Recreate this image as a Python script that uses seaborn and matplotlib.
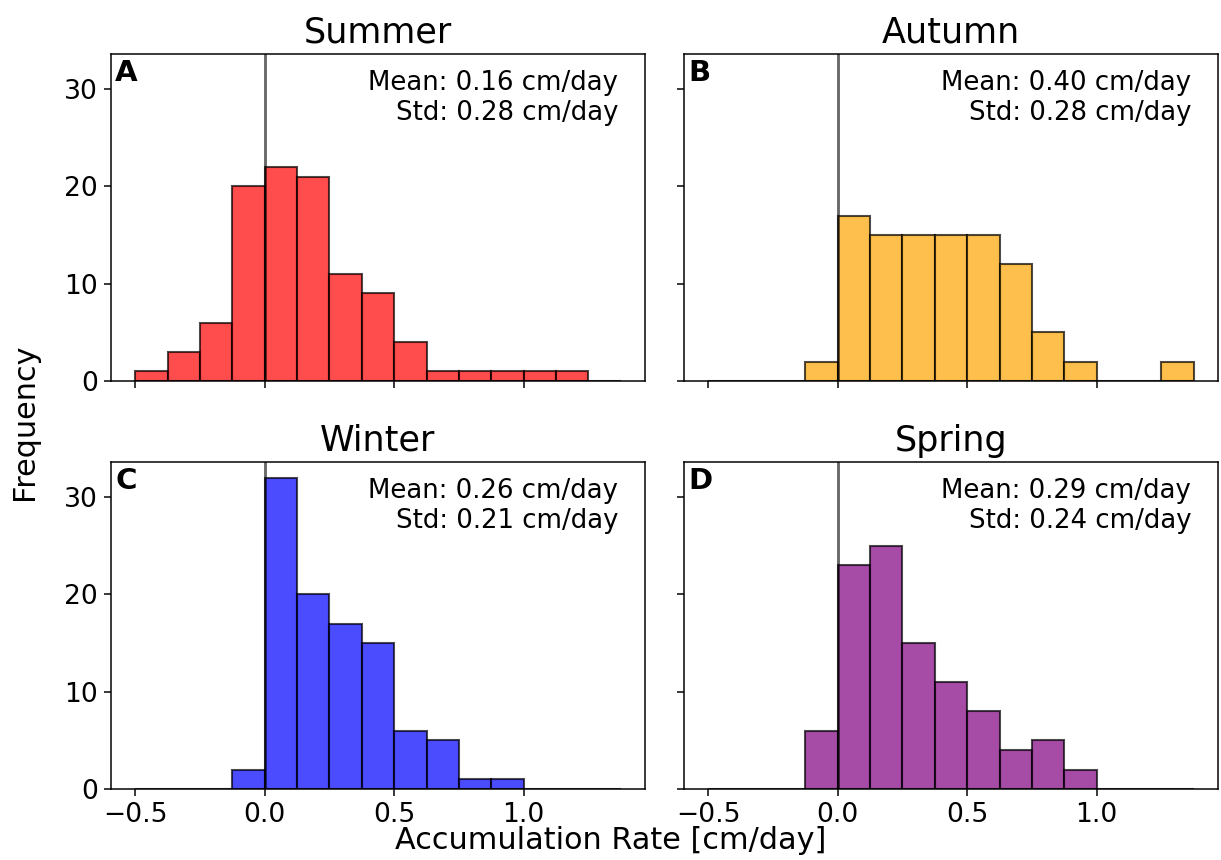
import numpy as np
import pandas as pd
import matplotlib
matplotlib.use("Agg")
import matplotlib.pyplot as plt
import seaborn as sns

# Data (histogram counts)
bin_edges = [-0.5 + 0.125 * k for k in range(16)]  # -0.5 ... 1.375
bin_centers = [(a + b) / 2 for a, b in zip(bin_edges[:-1], bin_edges[1:])]

seasons = ["Summer", "Autumn", "Winter", "Spring"]
letters = ["A", "B", "C", "D"]
colors = ["red", "orange", "blue", "purple"]
summer_counts = [1, 3, 6, 20, 22, 21, 11, 9, 4, 1, 1, 1, 1, 1, 0]
autumn_counts = [0, 0, 0, 2, 17, 15, 15, 15, 15, 12, 5, 2, 0, 0, 2]
winter_counts = [0, 0, 0, 2, 32, 20, 17, 15, 6, 5, 1, 1, 0, 0, 0]
spring_counts = [0, 0, 0, 6, 23, 25, 15, 11, 8, 4, 5, 2, 0, 0, 0]
means = [0.16, 0.40, 0.26, 0.29]
stds = [0.28, 0.28, 0.21, 0.24]
all_counts = [summer_counts, autumn_counts, winter_counts, spring_counts]

plt.rcParams["font.family"] = ["DejaVu Sans"]

dpi = 136
fig = plt.figure(figsize=(1221 / dpi, 860 / dpi), dpi=dpi)

W, H = 1221, 860
ax_w, ax_h = 534, 327
lefts = [111, 684]
tops = [54, 462]

axes = []
for i in range(4):
    r, c = divmod(i, 2)
    rect = [lefts[c] / W, (H - tops[r] - ax_h) / H, ax_w / W, ax_h / H]
    if i == 0:
        ax = fig.add_axes(rect)
    else:
        ax = fig.add_axes(rect, sharex=axes[0], sharey=axes[0])
    axes.append(ax)

for i, ax in enumerate(axes):
    # one observation per count, placed at its bin centre
    values = np.repeat(np.array(bin_centers), all_counts[i])
    df = pd.DataFrame({"rate": values})
    sns.histplot(data=df, x="rate", bins=bin_edges,
                 color=colors[i], alpha=0.7, edgecolor=(0, 0, 0, 0.7),
                 linewidth=1.1, ax=ax)
    ax.axvline(0, color="black", alpha=0.6, linewidth=1.5)
    ax.set_title(seasons[i], fontsize=18.5)
    ax.set_xlabel("")
    ax.set_ylabel("")
    ax.text(0.008, 0.985, letters[i], transform=ax.transAxes, fontsize=15.5,
            fontweight="bold", ha="left", va="top")
    ax.text(0.95, 0.95, f"Mean: {means[i]:.2f} cm/day\nStd: {stds[i]:.2f} cm/day",
            transform=ax.transAxes, fontsize=13.8, ha="right", va="top")
    ax.tick_params(labelsize=14)
    r, c = divmod(i, 2)
    if r == 0:
        ax.tick_params(labelbottom=False)
    if c == 1:
        ax.tick_params(labelleft=False)

axes[0].set_yticks([0, 10, 20, 30])
axes[0].set_xticks([-0.5, 0.0, 0.5, 1.0])

fig.text(0.5, 0.023, "Accumulation Rate [cm/day]", ha="center", va="center", fontsize=16)
fig.text(0.02, 0.51, "Frequency", ha="center", va="center", rotation=90, fontsize=16)

fig.savefig("out.png", dpi=dpi)
